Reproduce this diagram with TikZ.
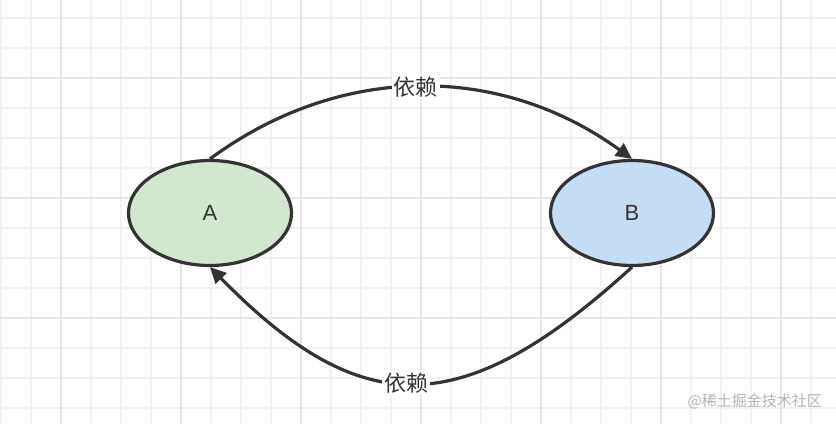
\documentclass[tikz,border=0pt]{standalone}
\usepackage{fontspec}
\setmainfont{Liberation Sans}
\newfontfamily\cjk{Noto Sans CJK SC}
\usetikzlibrary{arrows.meta,shapes.geometric}
\definecolor{gridminor}{HTML}{F1F1F1}
\definecolor{gridmajor}{HTML}{E6E6E6}
\definecolor{ink}{HTML}{333333}
\definecolor{fillA}{HTML}{D3E7D0}
\definecolor{fillB}{HTML}{C5DCF5}
\definecolor{wm}{HTML}{B4B4B4}
\tikzset{
  ent/.style={ellipse, draw=ink, line width=3.2pt, minimum width=163pt, minimum height=105pt, inner sep=0pt, text=ink, font=\fontsize{22}{24}\selectfont},
  dep/.style={draw=ink, line width=3.2pt, -{Triangle[length=16pt,width=15pt]}},
  lbl/.style={fill=white, inner sep=2pt, text=ink, font=\cjk\fontsize{22}{24}\selectfont},
}
\begin{document}
\begin{tikzpicture}[x=1pt,y=-1pt]
\useasboundingbox (0,0) rectangle (836,424);
\fill[white] (0,0) rectangle (836,424);
% grid
\foreach \x in {1,31,...,835} \draw[gridminor, line width=1.2pt] (\x,0) -- (\x,424);
\foreach \y in {18,48,...,423} \draw[gridminor, line width=1.2pt] (0,\y) -- (836,\y);
\foreach \x in {61,181,...,835} \draw[gridmajor, line width=1.5pt] (\x,0) -- (\x,424);
\foreach \y in {78,198,318} \draw[gridmajor, line width=1.5pt] (0,\y) -- (836,\y);
% nodes
\node[ent, fill=fillA] (A) at (210,213) {A};
\node[ent, fill=fillB] (B) at (632,213) {B};
% connectors
\draw[dep] (A.north) .. controls (340,63) and (500,63) .. node[lbl, pos=0.49] (l1) {依赖} (B.north);
\draw[dep] (B.south) .. controls (462,422) and (362,422) .. node[lbl, pos=0.52] (l2) {依赖} (A.south);
% watermark
\node[text=wm, anchor=east, inner sep=0pt, font=\cjk\fontsize{15}{17}\selectfont] (wmk) at (822,401) {@稀土掘金技术社区};
\end{tikzpicture}
\end{document}
